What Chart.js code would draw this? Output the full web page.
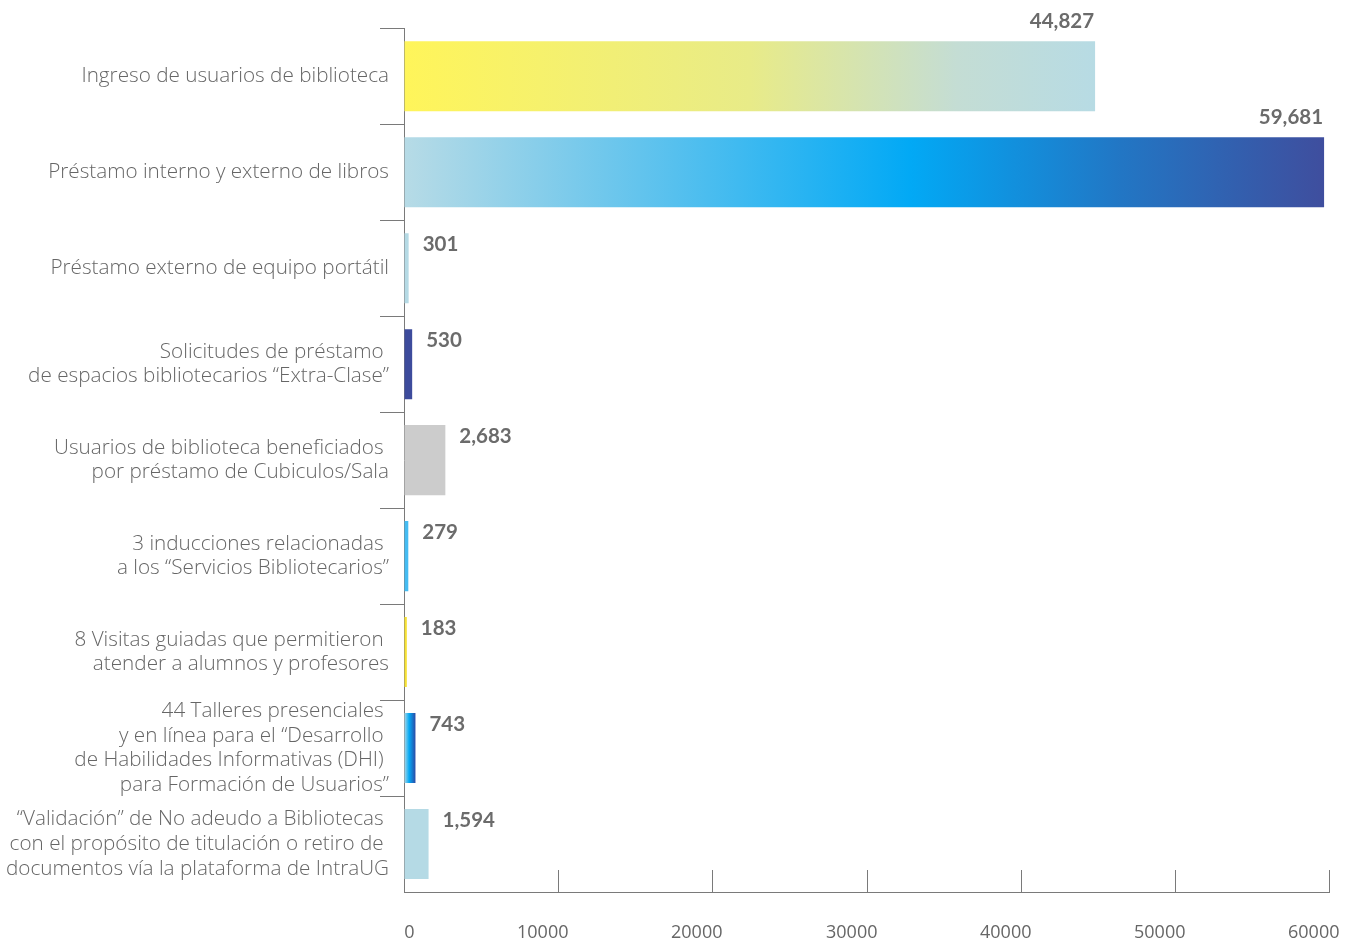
<!DOCTYPE html>
<html>
<head>
<meta charset="utf-8">
<script src="https://cdn.jsdelivr.net/npm/chart.js@4.4.0/dist/chart.umd.min.js"></script>
<style>
  html, body { margin: 0; padding: 0; background: #fff; }
  #wrap { width: 1354px; height: 946px; }
</style>
</head>
<body>
<div id="wrap"><canvas id="myChart"></canvas></div>
<script>
const categories = [
  "Ingreso de usuarios de biblioteca",
  "Préstamo interno y externo de libros",
  "Préstamo externo de equipo portátil",
  ["Solicitudes de préstamo ", "de espacios bibliotecarios “Extra-Clase”"],
  ["Usuarios de biblioteca beneficiados ", "por préstamo de Cubiculos/Sala"],
  ["3 inducciones relacionadas ", "a los “Servicios Bibliotecarios”"],
  ["8 Visitas guiadas que permitieron ", "atender a alumnos y profesores"],
  ["44 Talleres presenciales ", "y en línea para el “Desarrollo ", "de Habilidades Informativas (DHI) ", "para Formación de Usuarios”"],
  ["“Validación” de No adeudo a Bibliotecas ", "con el propósito de titulación o retiro de ", "documentos vía la plataforma de IntraUG"]
];
const values = [44827, 59681, 301, 530, 2683, 279, 183, 743, 1594];
const xTicks = [0, 10000, 20000, 30000, 40000, 50000, 60000];

// colour stops for each bar (one stop = plain colour)
const barColors = [
  [[0, "#fff55a"], [0.5, "#e8eb88"], [0.8, "#c4ddd4"], [1, "#b7dbe4"]],
  [[0, "#b7dbe6"], [0.55, "#02a9f5"], [0.78, "#2276c4"], [1, "#3f4e9e"]],
  [[0, "#b5dae5"]],
  [[0, "#3d4b9c"]],
  [[0, "#cccccc"]],
  [[0, "#45bcf2"]],
  [[0, "#f7e234"]],
  [[0, "#b7dbe6"], [0.45, "#02a9f5"], [1, "#2a4aa6"]],
  [[0, "#b5dae5"]]
];

function barFill(context) {
  const stops = barColors[context.dataIndex];
  if (stops.length === 1) return stops[0][1];
  const chart = context.chart;
  const xs = chart.scales.x;
  if (!chart.chartArea || !xs) return stops[0][1];
  const x0 = xs.getPixelForValue(0);
  const x1 = xs.getPixelForValue(values[context.dataIndex]);
  const g = chart.ctx.createLinearGradient(x0, 0, x1, 0);
  stops.forEach(s => g.addColorStop(s[0], s[1]));
  return g;
}

const valueLabels = {
  id: "valueLabels",
  afterDatasetsDraw(chart) {
    const ctx = chart.ctx;
    const meta = chart.getDatasetMeta(0);
    ctx.save();
    ctx.font = "bold 20.5px Lato";
    ctx.fillStyle = "#6b6b6b";
    meta.data.forEach((bar, i) => {
      const top = bar.y - bar.height / 2;
      const txt = values[i].toLocaleString("en-US");
      if (values[i] > 10000) {
        ctx.textAlign = "right";
        ctx.textBaseline = "alphabetic";
        ctx.fillText(txt, bar.x - 1, top - 13);
      } else {
        ctx.textAlign = "left";
        ctx.textBaseline = "middle";
        ctx.fillText(txt, bar.x + 14, top + 11);
      }
    });
    ctx.restore();
  }
};

const xAxisMarks = {
  id: "xAxisMarks",
  afterDraw(chart) {
    const ctx = chart.ctx;
    const xs = chart.scales.x;
    const bottom = chart.chartArea.bottom;
    ctx.save();
    ctx.strokeStyle = "#7a7a7a";
    ctx.lineWidth = 1;
    ctx.font = "18px 'Open Sans'";
    ctx.fillStyle = "#666";
    ctx.textAlign = "right";
    ctx.textBaseline = "middle";
    xTicks.forEach(v => {
      const px = Math.round(xs.getPixelForValue(v)) + 0.5;
      if (v > 0) {
        ctx.beginPath();
        ctx.moveTo(px, bottom - 22);
        ctx.lineTo(px, bottom);
        ctx.stroke();
      }
      ctx.fillText(String(v), px + 10, bottom + 41);
    });
    ctx.restore();
  }
};

new Chart(document.getElementById("myChart"), {
  type: "bar",
  data: {
    labels: categories,
    datasets: [{
      data: values,
      backgroundColor: barFill,
      barPercentage: 0.73,
      categoryPercentage: 1
    }]
  },
  options: {
    indexAxis: "y",
    responsive: true,
    maintainAspectRatio: false,
    animation: false,
    layout: { padding: { top: 28, right: 25, left: 0, bottom: 0 } },
    plugins: { legend: { display: false }, tooltip: { enabled: false } },
    scales: {
      x: {
        min: 0,
        max: 60000,
        afterFit(scale) { scale.height = 54; },
        ticks: { display: false, stepSize: 10000 },
        grid: { display: true, drawOnChartArea: false, drawTicks: false },
        border: { display: true, color: "#7a7a7a", width: 1 }
      },
      y: {
        afterFit(scale) { scale.width = 404; },
        grid: {
          display: true, offset: true, drawOnChartArea: false, drawTicks: true, tickLength: 24,
          // the extra closing line at the bottom is not drawn
          color: c => (c.type === "tick" ? "#7a7a7a" : "rgba(0,0,0,0)")
        },
        border: { display: true, color: "#7a7a7a", width: 1 },
        ticks: {
          autoSkip: false,
          padding: -9,
          color: "#666",
          font: { family: "Open Sans", size: 20.7, weight: "300", lineHeight: 1.2 }
        }
      }
    }
  },
  plugins: [valueLabels, xAxisMarks]
});
</script>
</body>
</html>
